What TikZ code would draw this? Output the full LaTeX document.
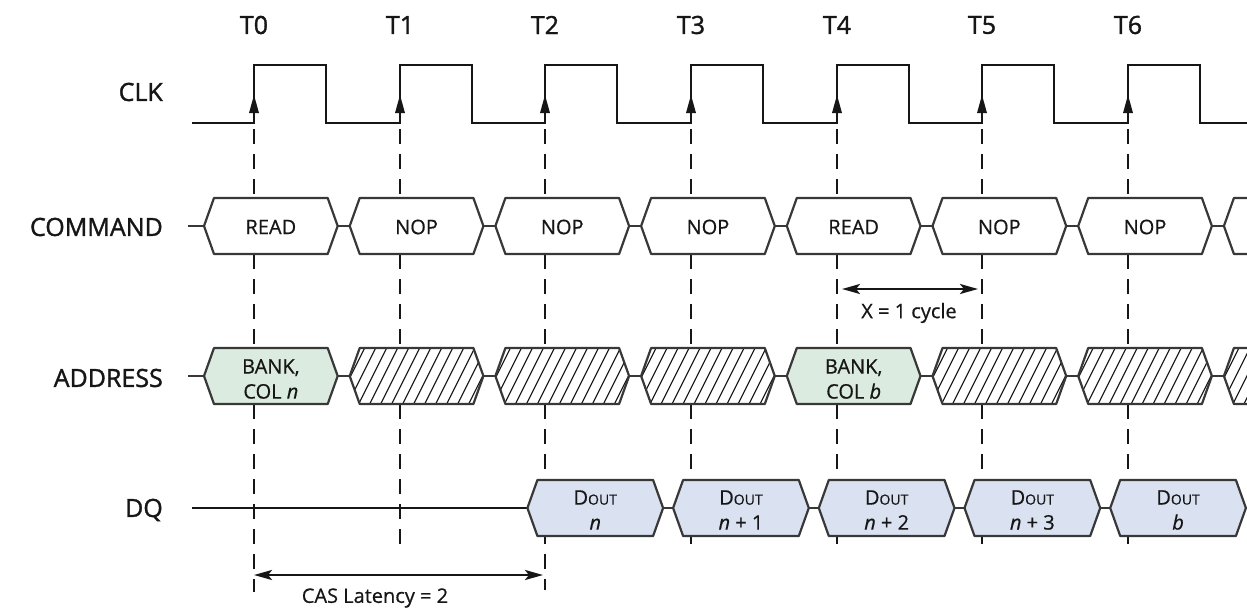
\documentclass[tikz,border=0pt]{standalone}
\usepackage{fontspec}
\setmainfont{Open Sans}
\newfontfamily\lblfont{Open Sans}[FakeBold=1.4]
\newfontfamily\boxfont{Open Sans}[FakeBold=0.6]
\usetikzlibrary{arrows.meta,calc}
\definecolor{ink}{HTML}{161616}
\definecolor{edgegray}{HTML}{383838}
\definecolor{addrfill}{HTML}{DBEBDF}
\definecolor{dqfill}{HTML}{DAE2F2}
\newcommand\hexbox[4][]{%
  \path[#1] (#2,#4) -- ({#2+10},{#4-28}) -- ({#3-10},{#4-28}) -- (#3,#4) -- ({#3-10},{#4+28}) -- ({#2+10},{#4+28}) -- cycle;}
\newcommand\hatchbox[3]{%
  \begin{scope}
  \clip (#1,#3) -- ({#1+10},{#3-28}) -- ({#2-10},{#3-28}) -- (#2,#3) -- ({#2-10},{#3+28}) -- ({#1+10},{#3+28}) -- cycle;
  \fill[white] (#1,{#3-30}) rectangle (#2,{#3+30});
  \foreach \h in {0,...,16}{\draw[hatchline] ({#1-25+\h*11},{#3+30}) -- ++(30,-60);}
  \end{scope}
  \hexbox[bus]{#1}{#2}{#3}}
\begin{document}
\begin{tikzpicture}[x=1pt,y=-1pt,
  sig/.style={line width=2.6pt, draw=ink, line join=miter},
  tick/.style={line width=2.4pt, draw=ink, dash pattern=on 15pt off 10pt},
  bus/.style={line width=2.2pt, draw=edgegray, line join=round},
  hatchline/.style={line width=1.1pt, draw=ink},
  rowlabel/.style={font=\lblfont\fontsize{25}{30}\selectfont, text=ink, anchor=east, inner sep=0pt},
  tlabel/.style={font=\lblfont\fontsize{25}{30}\selectfont, text=ink, inner sep=0pt},
  intext/.style={font=\boxfont\fontsize{20}{25}\selectfont, text=ink, align=center, inner sep=0pt},
  note/.style={font=\boxfont\fontsize{20}{24}\selectfont, text=ink, inner sep=0pt},
  dim/.style={line width=2.4pt, draw=ink, {Stealth[length=18pt,width=10pt,inset=4pt]}-{Stealth[length=18pt,width=10pt,inset=4pt]}},
  edgetip/.style={fill=ink}
]
\useasboundingbox (0,0) rectangle (1247,613);
\clip (0,0) rectangle (1247,613);

% clock edge positions (rounded to whole pixels)
\foreach \k/\x in {0/254,1/400,2/545,3/691,4/837,5/982,6/1128,7/1274}{\coordinate (T\k) at (\x,0);}

% labels
\foreach \k/\x in {0/254,1/400,2/545,3/691,4/837,5/982,6/1128}{\node[tlabel] (tl\k) at (\x,25) {T\k};}
\node[rowlabel] (lclk) at (163,92) {CLK};
\node[rowlabel] (lcmd) at (163,227) {COMMAND};
\node[rowlabel] (ladr) at (163,378) {ADDRESS};
\node[rowlabel] (ldq) at (163,510) {DQ};

% dashed reference lines
\foreach \k/\e in {0/592,1/553,2/590,3/553,4/553,5/553,6/553}{
  \draw[tick] ($(T\k)+(0,129)$) -- ($(T\k)+(0,\e)$);}

% clock
\draw[sig] (192,123) \foreach \x in {254,400,545,691,837,982,1128}{ -- (\x,123) -- (\x,65) -- ({\x+72},65) -- ({\x+72},123)} -- (1250,123);
\foreach \k in {0,...,6}{\fill[edgetip] ($(T\k)+(-5,113)$) -- ($(T\k)+(5,113)$) -- ($(T\k)+(0,95)$) -- cycle;}

% bus base lines
\draw[bus] (188,226) -- (1250,226);
\draw[bus] (188,376) -- (1250,376);
\draw[sig] (192,508) -- (530,508);
\draw[bus] (530,508) -- (1250,508);

% COMMAND
\foreach \k/\txt in {0/READ,1/NOP,2/NOP,3/NOP,4/READ,5/NOP,6/NOP,7/{}}{
  \pgfmathsetmacro\L{254+145.7*\k-56+6}
  \pgfmathsetmacro\R{254+145.7*(\k+1)-56-6}
  \hexbox[bus,fill=white]{\L}{\R}{226}
  \node[intext] (cmd\k) at ({(\L+\R)/2},227) {\txt};
}

% ADDRESS
\foreach \k in {1,2,3,5,6,7}{
  \pgfmathsetmacro\L{254+145.7*\k-56+6}
  \pgfmathsetmacro\R{254+145.7*(\k+1)-56-6}
  \hatchbox{\L}{\R}{376}
}
\foreach \k/\v in {0/n,4/b}{
  \pgfmathsetmacro\L{254+145.7*\k-56+6}
  \pgfmathsetmacro\R{254+145.7*(\k+1)-56-6}
  \hexbox[bus,fill=addrfill]{\L}{\R}{376}
  \node[intext] (adr\k) at ({(\L+\R)/2},379) {BANK,\\COL \textit{\v}};
}

% DQ
\foreach \k/\v in {2/{\textit{n}},3/{\textit{n} + 1},4/{\textit{n} + 2},5/{\textit{n} + 3},6/{\textit{b}}}{
  \pgfmathsetmacro\L{254+145.7*\k-23+5}
  \pgfmathsetmacro\R{254+145.7*(\k+1)-23-5}
  \hexbox[bus,fill=dqfill]{\L}{\R}{508}
  \node[intext] (dq\k) at ({(\L+\R)/2},510) {D{\fontsize{14}{16}\selectfont OUT}\\\v};
}

% annotations
\coordinate (xl) at ($(T4)+(5,289)$);
\coordinate (xr) at ($(T5)+(-4,289)$);
\draw[dim] (xl) -- (xr);
\node[note] (xtxt) at (909,313) {X = 1 cycle};
\coordinate (cl) at ($(T0)+(0,575)$);
\coordinate (cr) at ($(T2)+(-2,575)$);
\draw[dim] (cl) -- (cr);
\node[note] (castxt) at (375,598) {CAS Latency = 2};
\end{tikzpicture}
\end{document}
